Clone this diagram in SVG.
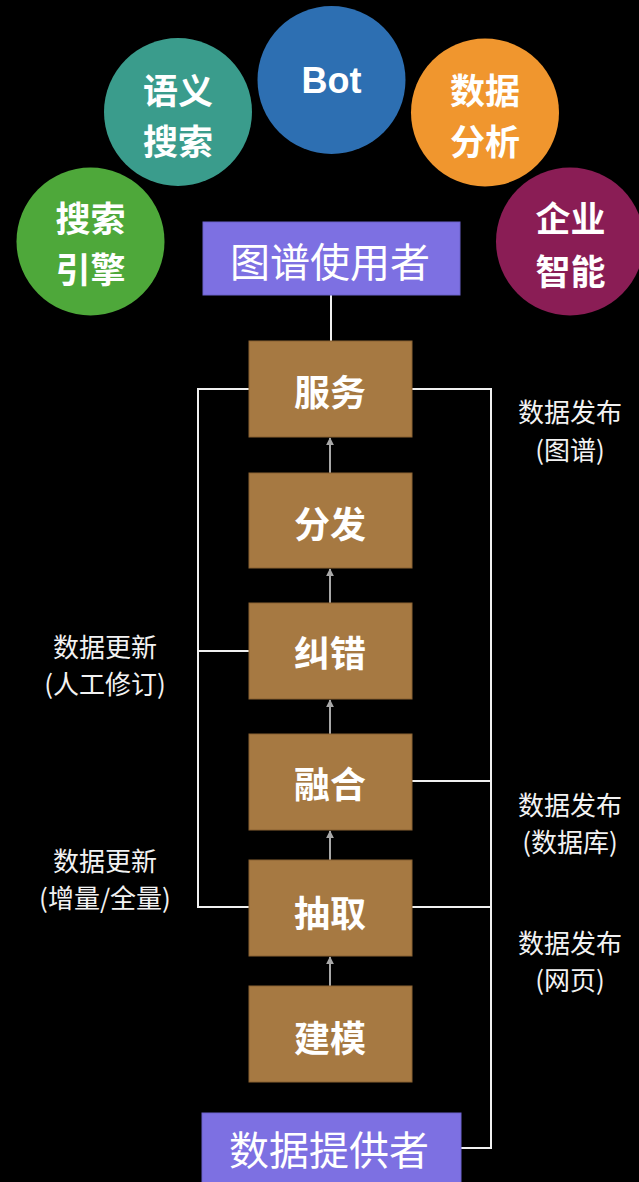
<svg xmlns="http://www.w3.org/2000/svg" width="639" height="1182" viewBox="0 0 639 1182">
<defs>
<style>
.cj{font-family:"Noto Sans CJK SC","Noto Sans",sans-serif;fill:#fff;text-anchor:middle;dominant-baseline:central}
.ct{font-size:35px;font-weight:700}
.bx{font-size:36px;font-weight:700}
.pl{font-size:40px;font-weight:400}
.lb{font-size:26px;font-weight:400;fill:#f2f2f2}
.brown{fill:#a67942;stroke:#8a6232;stroke-width:1}
.purple{fill:#7d70e2;stroke:#6d62cc;stroke-width:1}
.wl{fill:none;stroke:#f0f0f0;stroke-width:2}
.ar{stroke:#a8a8a8;stroke-width:2;marker-end:url(#ah)}
</style>
<marker id="ah" viewBox="0 0 10 10" refX="9" refY="5" markerWidth="8" markerHeight="8" markerUnits="userSpaceOnUse" orient="auto"><path d="M0,0 L10,5 L0,10 z" fill="#a8a8a8"/></marker>
</defs>
<rect width="639" height="1182" fill="#000"/>
<g id="connectors">
<line class="wl" x1="331" y1="295" x2="331" y2="341"/>
<polyline class="wl" points="249,389 198,389 198,907 249,907"/>
<line class="wl" x1="198" y1="651" x2="249" y2="651"/>
<polyline class="wl" points="412,389 491,389 491,1148 461,1148"/>
<line class="wl" x1="412" y1="781" x2="491" y2="781"/>
<line class="wl" x1="412" y1="907" x2="491" y2="907"/>
<line class="ar" x1="330" y1="473" x2="330" y2="438"/>
<line class="ar" x1="330" y1="603" x2="330" y2="569"/>
<line class="ar" x1="330" y1="734" x2="330" y2="700"/>
<line class="ar" x1="330" y1="860" x2="330" y2="831"/>
<line class="ar" x1="330" y1="986" x2="330" y2="957"/>
</g>
<g id="n-search-engine"><circle cx="90.5" cy="241.5" r="74" fill="#4ea83a"/><text class="cj ct" x="90.5" y="216">搜索</text><text class="cj ct" x="90.5" y="267">引擎</text></g>
<g id="n-semantic"><circle cx="178" cy="112" r="74" fill="#3a9c8c"/><text class="cj ct" x="178" y="88">语义</text><text class="cj ct" x="178" y="139">搜索</text></g>
<g id="n-bot"><circle cx="331.5" cy="80" r="74" fill="#2d6fb2"/><text x="331.5" y="93" font-family="Liberation Sans, Arial, sans-serif" font-size="36" font-weight="700" fill="#fff" text-anchor="middle">Bot</text></g>
<g id="n-analysis"><circle cx="485" cy="112.5" r="74" fill="#f0962e"/><text class="cj ct" x="485" y="88">数据</text><text class="cj ct" x="485" y="139">分析</text></g>
<g id="n-enterprise"><circle cx="570" cy="241.5" r="74" fill="#8a1d55"/><text class="cj ct" x="570.5" y="216">企业</text><text class="cj ct" x="570.5" y="269">智能</text></g>
<g id="n-users"><rect class="purple" x="203" y="222" width="257" height="73"/><text class="cj pl" x="330" y="260">图谱使用者</text></g>
<g id="n-service"><rect class="brown" x="249" y="341" width="163" height="96"/><text class="cj bx" x="330" y="390">服务</text></g>
<g id="n-distribute"><rect class="brown" x="249" y="473" width="163" height="95"/><text class="cj bx" x="330" y="522">分发</text></g>
<g id="n-correct"><rect class="brown" x="249" y="603" width="163" height="96"/><text class="cj bx" x="330" y="651">纠错</text></g>
<g id="n-fuse"><rect class="brown" x="249" y="734" width="163" height="96"/><text class="cj bx" x="330" y="782">融合</text></g>
<g id="n-extract"><rect class="brown" x="249" y="860" width="163" height="96"/><text class="cj bx" x="330" y="911">抽取</text></g>
<g id="n-model"><rect class="brown" x="249" y="986" width="163" height="96"/><text class="cj bx" x="330" y="1036">建模</text></g>
<g id="n-providers"><rect class="purple" x="202" y="1113" width="259" height="75"/><text class="cj pl" x="329" y="1148">数据提供者</text></g>
<g id="labels">
<text class="cj lb" x="105" y="645">数据更新</text>
<text class="cj lb" x="105" y="682">(人工修订)</text>
<text class="cj lb" x="105" y="859">数据更新</text>
<text class="cj lb" x="105" y="896">(增量/全量)</text>
<text class="cj lb" x="570" y="410">数据发布</text>
<text class="cj lb" x="570" y="448">(图谱)</text>
<text class="cj lb" x="570" y="803">数据发布</text>
<text class="cj lb" x="570" y="840">(数据库)</text>
<text class="cj lb" x="570" y="941">数据发布</text>
<text class="cj lb" x="570" y="978">(网页)</text>
</g>
</svg>
